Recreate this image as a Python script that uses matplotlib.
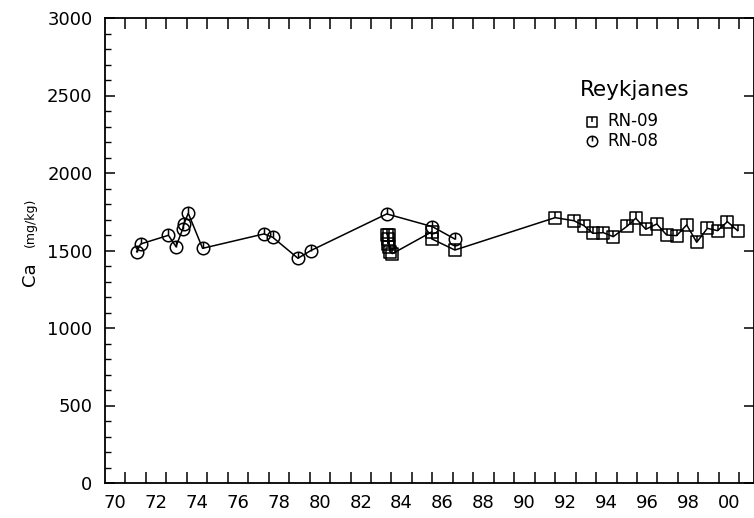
import numpy as np
import matplotlib
matplotlib.use("Agg")
import matplotlib.pyplot as plt
from matplotlib.path import Path

# RN-08 (circles)
rn08_year = [71.55, 71.74, 73.1, 73.47, 73.8, 73.85, 74.07, 74.77, 77.77, 78.2,
             79.43, 80.05, 83.77, 86.0, 87.1]
rn08_ca = [1492, 1542, 1598, 1525, 1640, 1670, 1740, 1514, 1607, 1585,
           1450, 1499, 1736, 1654, 1574]

# RN-09 (squares)
rn09_year = [83.8, 83.82, 83.84, 83.86, 83.9, 83.95, 84.05, 85.97, 85.97, 87.1,
             92.0, 92.92, 93.41, 93.84, 94.36, 94.84, 95.53, 95.94, 96.43, 96.97,
             97.45, 97.94, 98.43, 98.92, 99.44, 99.94, 100.42, 100.92]
rn09_ca = [1600, 1575, 1545, 1600, 1520, 1490, 1480, 1620, 1575, 1503,
           1712, 1692, 1660, 1611, 1615, 1589, 1658, 1708, 1637, 1671,
           1600, 1596, 1665, 1553, 1643, 1628, 1686, 1628]

label_years = list(range(70, 101, 2))
tick_labels = ["%02d" % (y % 100) for y in label_years]


def marker_with_tick(base):
    tick = Path([(0, 1), (0, 0)], [Path.MOVETO, Path.LINETO])
    return Path.make_compound_path(base, tick)


square = Path([(-1, -1), (1, -1), (1, 1), (-1, 1), (-1, -1)],
              [Path.MOVETO, Path.LINETO, Path.LINETO, Path.LINETO, Path.CLOSEPOLY])
sq_marker = marker_with_tick(square)
circ_marker = marker_with_tick(Path.unit_circle())

plt.rcParams["font.family"] = "DejaVu Sans"

fig = plt.figure(figsize=(7.54, 5.18), dpi=100)
ax = fig.add_axes([105 / 754, 1 - 483 / 518, 649 / 754, 465 / 518])

ax.plot(rn09_year, rn09_ca, color="black", lw=1.1, marker=sq_marker, ms=8.5,
        mfc="none", mec="black", mew=1.1)
ax.plot(rn08_year, rn08_ca, color="black", lw=1.1, marker=circ_marker, ms=9,
        mfc="none", mec="black", mew=1.1)

ax.set_xlim(70, 101.72)
ax.set_ylim(0, 3000)

# x axis: ticks at each year, labels centred in the year
ax.set_xticks(np.arange(71, 102), minor=False)
ax.set_xticklabels([])
ax.set_xticks([y + 0.5 for y in label_years], minor=True)
ax.set_xticklabels(tick_labels, minor=True)
ax.tick_params(axis="x", which="major", direction="in", length=8, width=1.1,
               top=True, bottom=True)
ax.tick_params(axis="x", which="minor", length=0, pad=8, labelsize=13)

ax.set_yticks(np.arange(0, 3001, 500))
ax.set_yticks(np.arange(0, 3001, 100), minor=True)
ax.tick_params(axis="y", which="major", direction="in", length=7, width=1.1,
               left=True, right=True, pad=9, labelsize=13)
ax.tick_params(axis="y", which="minor", direction="in", length=4.5, width=1.0,
               left=True, right=False)

for s in ax.spines.values():
    s.set_linewidth(1.3)

fig.text(30 / 754, 1 - 274 / 518, "Ca", rotation=90, fontsize=13,
         ha="center", va="center")
fig.text(30 / 754, 1 - 222 / 518, "(mg/kg)", rotation=90, fontsize=9,
         ha="center", va="center")

# legend
def ax_xy(px, py):
    return (px - 105) / 649, (483 - py) / 465

ax.text(*ax_xy(580, 90), "Reykjanes", transform=ax.transAxes, fontsize=15.5,
        ha="left", va="center")
ax.plot(*ax_xy(592, 121.5), transform=ax.transAxes, marker=sq_marker, ms=7,
        mfc="none", mec="black", mew=1.1, ls="none", clip_on=False)
ax.text(*ax_xy(607, 121.5), "RN-09", transform=ax.transAxes, fontsize=12,
        ha="left", va="center")
ax.plot(*ax_xy(592, 141), transform=ax.transAxes, marker=circ_marker, ms=7.5,
        mfc="none", mec="black", mew=1.1, ls="none", clip_on=False)
ax.text(*ax_xy(607, 141), "RN-08", transform=ax.transAxes, fontsize=12,
        ha="left", va="center")

fig.savefig("out.png", dpi=100)
